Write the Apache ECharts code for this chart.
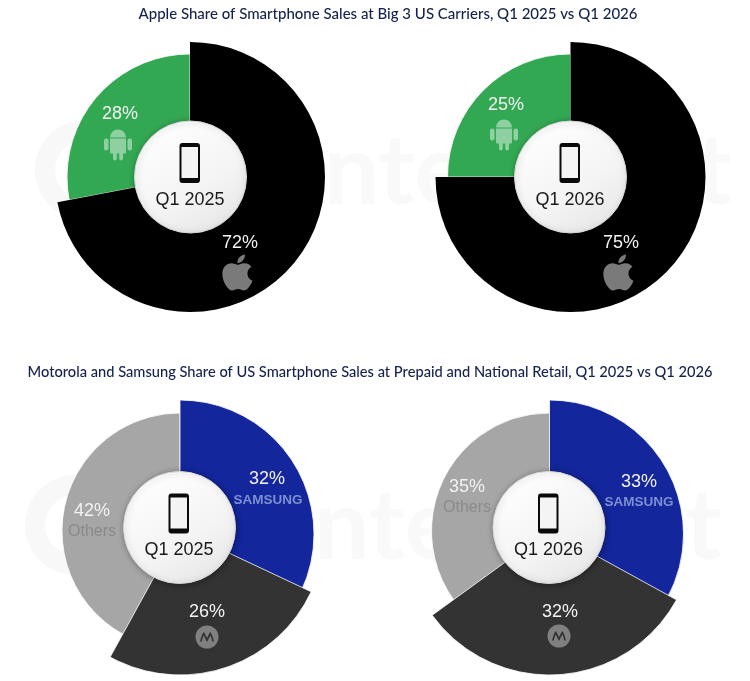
<!DOCTYPE html>
<html>
<head>
<meta charset="utf-8">
<style>html,body{margin:0;padding:0;background:#fff}#c{width:750px;height:681px}</style>
<script src="https://cdn.jsdelivr.net/npm/echarts@6/dist/echarts.min.js"></script>
</head>
<body>
<div id="c"></div>
<script>
// ---- data ----
const titles = [
  'Apple Share of Smartphone Sales at Big 3 US Carriers, Q1 2025 vs Q1 2026',
  'Motorola and Samsung Share of US Smartphone Sales at Prepaid and National Retail, Q1 2025 vs Q1 2026'
];
const periods = ['Q1 2025', 'Q1 2026', 'Q1 2025', 'Q1 2026'];
const carrierBrands = ['Apple', 'Android'];
const carrier2025 = [72, 28];
const carrier2026 = [75, 25];
const retailBrands = ['Samsung', 'Motorola', 'Others'];
const retail2025 = [32, 26, 42];
const retail2026 = [33, 32, 35];

// ---- styles ----
const FONT = '"Liberation Sans", Arial, sans-serif';
const brandStyle = {
  Apple:    {color: '#000000', r: 135, dy: 0, text: '#f2f2f2'},
  Android:  {color: '#33a853', r: 123, dy: 0, text: '#f2f2f2'},
  Samsung:  {color: '#13269c', r: 134, dy: 1, text: '#f2f2f2'},
  Motorola: {color: '#333333', r: 145, dy: -3, text: '#f2f2f2'},
  Others:   {color: '#a6a6a6', r: 118, dy: -2, text: '#f2f2f2'}
};
const charts = [
  {brands: carrierBrands, values: carrier2025, c: [190, 177], hub: [190.5, 177],
   pos: {Apple: [240, 243], Android: [120, 114]}},
  {brands: carrierBrands, values: carrier2026, c: [570.5, 177], hub: [570.5, 177],
   pos: {Apple: [621, 243], Android: [506, 105]}},
  {brands: retailBrands, values: retail2025, c: [180, 533], hub: [179.5, 527.5],
   pos: {Samsung: [267, 479], Motorola: [207, 612], Others: [92, 511]}},
  {brands: retailBrands, values: retail2026, c: [549.5, 533], hub: [549, 527.5],
   pos: {Samsung: [639, 482], Motorola: [560, 612], Others: [467, 487]}}
];

// ---- series: one pie per brand so each slice has its own outer radius ----
const series = [];
charts.forEach((ch, ci) => {
  ch.brands.forEach((brand, bi) => {
    const st = brandStyle[brand];
    series.push({
      type: 'pie', silent: true, animation: false, clockwise: true, startAngle: 90,
      center: [ch.c[0], ch.c[1] + st.dy], radius: [46, st.r], avoidLabelOverlap: false,
      z: 2 + (st.r > 130 ? 1 : 0),
      labelLine: {show: false},
      data: ch.brands.map((b, i) => ({
        name: b, value: ch.values[i],
        itemStyle: i === bi
          ? {color: st.color, borderColor: '#ffffff', borderWidth: st.color === '#000000' ? 0 : 0.8}
          : {color: 'rgba(0,0,0,0)'},
        label: i === bi ? {
          show: true, position: 'inside', color: st.text, fontFamily: FONT,
          formatter: b === 'Others' ? '{p|{c}%}\n{o|Others}' : '{p|{c}%}',
          rich: {
            p: {fontFamily: FONT, fontSize: 18, color: st.text, lineHeight: 21, align: 'center'},
            o: {fontFamily: FONT, fontSize: 16, color: '#8a8a8a', lineHeight: 19, align: 'center'}
          }
        } : {show: false}
      })),
      labelLayout: () => {
        const p = ch.pos[brand];
        const dy = brand === 'Others' ? 10 : 0;
        return {x: p[0], y: p[1] + dy, align: 'center', verticalAlign: 'middle'};
      }
    });
  });
});

// ---- decorative icons ----
const APPLE = 'M318.7 268.7c-.2-36.7 16.4-64.4 50-84.8-18.8-26.9-47.2-41.7-84.7-44.6-35.5-2.8-74.3 20.7-88.5 20.7-15 0-49.4-19.7-76.4-19.7C63.3 141.2 4 184.8 4 273.5q0 39.3 14.4 81.2c12.8 36.7 59 126.7 107.2 125.2 25.2-.6 43-17.9 75.8-17.9 31.8 0 48.3 17.9 76.4 17.9 48.6-.7 90.4-82.5 102.6-119.3-65.2-30.7-61.7-90-61.7-91.9zm-56.6-164.2c27.3-32.4 24.8-61.9 24-72.5-24.1 1.4-52 16.4-67.9 34.9-17.5 19.8-27.8 44.3-25.6 71.9 26.1 2 49.9-11.4 69.5-34.3z';
const ANDROID = 'M6 11 A8 8 0 0 1 22 11 Z M6 12 H22 V26 Q22 27 21 27 H19 V32 Q19 34 17 34 Q15.2 34 15.2 32 V27 H12.8 V32 Q12.8 34 11 34 Q9 34 9 32 V27 H7 Q6 27 6 26 Z M0 14 Q0 12 2 12 Q4.5 12 4.5 14 V22 Q4.5 24 2 24 Q0 24 0 22 Z M23.5 14 Q23.5 12 26 12 Q28 12 28 14 V22 Q28 24 26 24 Q23.5 24 23.5 22 Z';
const MOTO = 'M0 12 Q2 3 4.5 1 L8 8 L11.5 1 Q14 3 16 12 L14 12 Q13 7 11.8 5 L8 12.5 L4.2 5 Q3 7 2 12 Z';
echarts.graphic.registerShape('appleGlyph', echarts.graphic.extendPath(APPLE, {}));
echarts.graphic.registerShape('androidGlyph', echarts.graphic.extendPath(ANDROID, {}));
echarts.graphic.registerShape('motoGlyph', echarts.graphic.extendPath(MOTO, {}));

const glyph = (type, x, y, scale, fill, z) => ({
  type, z: z || 50, silent: true, x, y, scaleX: scale, scaleY: scale, style: {fill}
});
const label = (text, x, y, font, fill, z) => ({
  type: 'text', x, y, z: z === undefined ? 50 : z, silent: true,
  style: {text, font, fill, align: 'center', verticalAlign: 'middle'}
});

const graphic = [];
// watermark
[[85, 170, 440, 172], [75, 525, 430, 527]].forEach(w => {
  graphic.push({type: 'ring', z: 0, silent: true,
    shape: {cx: w[0], cy: w[1], r: 50, r0: 30}, style: {fill: '#f8f8f8'}});
  graphic.push(label('Counterpoint', w[2], w[3], 'bold 98px "Lato", sans-serif', '#f9f9f9', 0));
});
// centre hubs
charts.forEach((ch, i) => {
  const [x, y] = ch.hub;
  graphic.push({type: 'circle', z: 40, silent: true,
    shape: {cx: x, cy: y, r: 56},
    style: {
      fill: {type: 'linear', x: 0.2, y: 0, x2: 0.8, y2: 1, colorStops: [
        {offset: 0, color: '#ffffff'}, {offset: 0.6, color: '#f4f4f4'}, {offset: 1, color: '#e6e6e6'}]},
      stroke: '#d6d6d6', lineWidth: 1,
      shadowBlur: 6, shadowColor: 'rgba(0,0,0,0.35)', shadowOffsetX: 1, shadowOffsetY: 1
    }});
  // phone glyph
  graphic.push({type: 'rect', z: 50, silent: true,
    shape: {x: x - 11, y: y - 34, width: 20.5, height: 40, r: 3}, style: {fill: '#0a0a0a'}});
  graphic.push({type: 'rect', z: 51, silent: true,
    shape: {x: x - 9, y: y - 30, width: 16.5, height: 31}, style: {fill: '#f4f4f4'}});
  graphic.push(label(periods[i], x - 0.5, y + 23, '18px ' + FONT, '#1a1a1a'));
});
// brand glyphs (path coordinates are icon units, scaled to size)
graphic.push(glyph('androidGlyph', 104, 126.5, 1, '#8fd0a2'));
graphic.push(glyph('androidGlyph', 490, 116.5, 1, '#8fd0a2'));
graphic.push(glyph('appleGlyph', 222, 252, 0.08, '#7a7a7a'));
graphic.push(glyph('appleGlyph', 603, 252, 0.08, '#7a7a7a'));
graphic.push(label('SAMSUNG', 268, 500, 'bold 13.5px ' + FONT, '#7f8fd2'));
graphic.push(label('SAMSUNG', 639, 502, 'bold 13.5px ' + FONT, '#7f8fd2'));
[[207, 637], [559, 636]].forEach(p => {
  graphic.push({type: 'circle', z: 50, silent: true,
    shape: {cx: p[0], cy: p[1], r: 11.5}, style: {fill: '#808080'}});
  graphic.push(glyph('motoGlyph', p[0] - 7, p[1] - 6, 0.875, '#333333', 51));
});

const chart = echarts.init(document.getElementById('c'), null, {renderer: 'canvas'});
chart.setOption({
  backgroundColor: '#ffffff',
  animation: false,
  tooltip: {show: false},
  legend: {show: false},
  title: [
    {text: titles[0], left: 388, top: 5, textAlign: 'center',
     textStyle: {fontFamily: 'Lato', fontWeight: 500, fontSize: 15, color: '#14214d', lineHeight: 18}, padding: 0},
    {text: titles[1], left: 370, top: 363, textAlign: 'center',
     textStyle: {fontFamily: 'Lato', fontWeight: 500, fontSize: 14.65, color: '#14214d', lineHeight: 18}, padding: 0}
  ],
  series,
  graphic
});
</script>
</body>
</html>
